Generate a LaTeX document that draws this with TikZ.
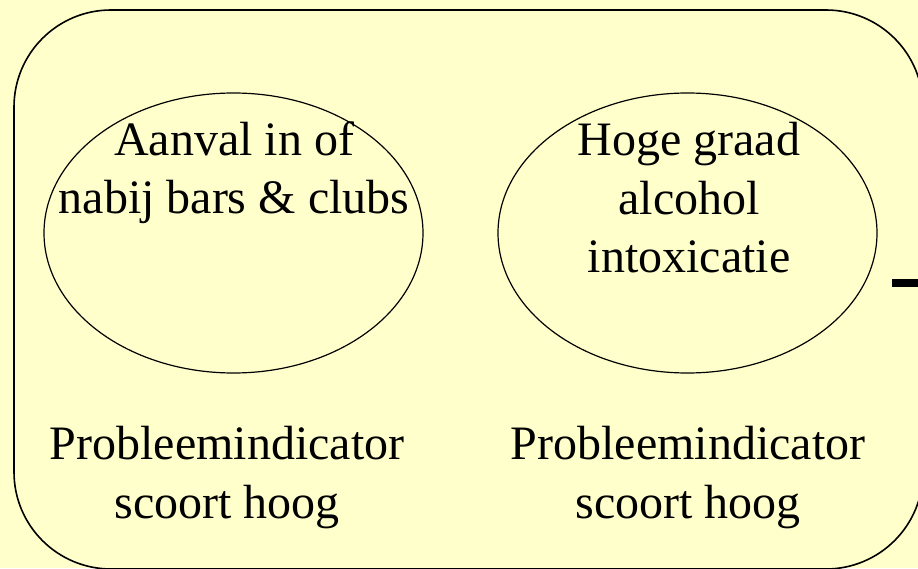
\documentclass[tikz,border=0pt]{standalone}
\usepackage{fontspec}
\setmainfont{Liberation Serif}
\usetikzlibrary{shapes.geometric}
\definecolor{paper}{HTML}{FFFFCC}

\begin{document}
\begin{tikzpicture}[x=1pt, y=1pt,
  circ/.style = {draw, ellipse, line width=1.2pt, minimum width=379pt, minimum height=280pt, inner sep=0pt},
  lbl/.style = {align=center, anchor=base, inner sep=0pt, font=\fontsize{48}{58.5}\selectfont}]
\fill[paper] (0,0) rectangle (918,568);
\useasboundingbox (0,0) rectangle (918,568);
\draw[line width=1.6pt, rounded corners=97pt] (14,-1) rectangle (923,558);
\node[circ] (aanval) at (233.5,335) {};
\node[circ] (alcohol) at (687.5,335) {};
% base anchor sits on the last line
\node[lbl] (aanvaltxt) at (234,354) {Aanval in of\\nabij bars \& clubs};
\node[lbl] (alcoholtxt) at (689,295) {Hoge graad\\alcohol\\intoxicatie};
\node[lbl] (indic1) at (227,50) {Probleemindicator\\scoort hoog};
\node[lbl] (indic2) at (688,50) {Probleemindicator\\scoort hoog};
\coordinate (stub) at (892,285);
\draw[line width=8pt] (stub) -- ++(30,0);
\end{tikzpicture}
\end{document}
